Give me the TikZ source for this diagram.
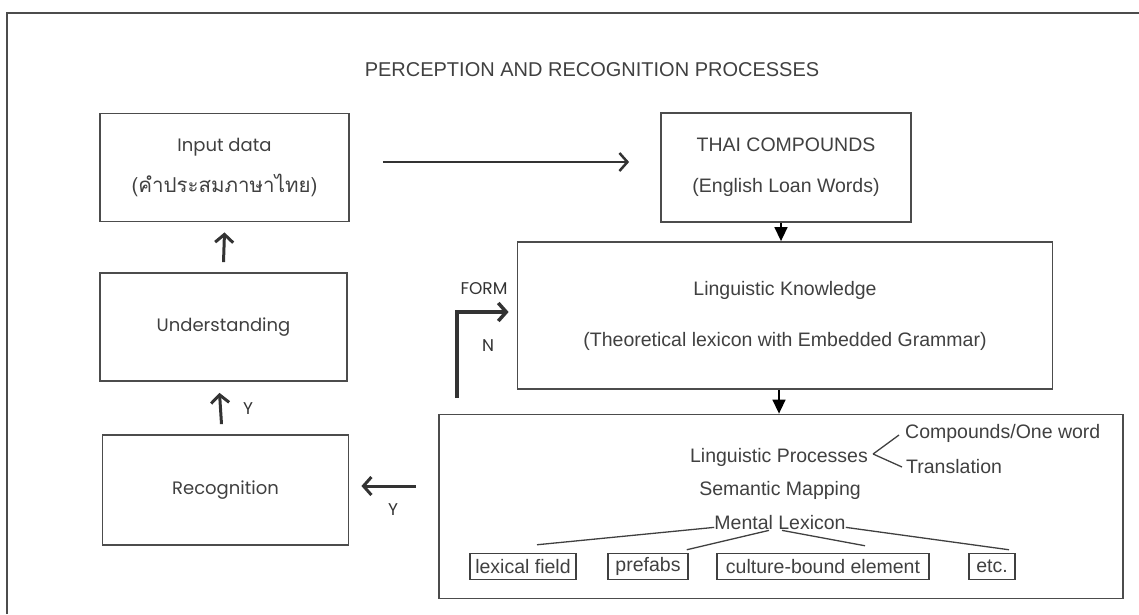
\documentclass[tikz,border=0pt]{standalone}
\usepackage{fontspec}
\setmainfont{Liberation Sans}
\newfontfamily\geofont{Poppins}
\newfontfamily\thaifont[Script=Thai]{Loma}
\usetikzlibrary{arrows.meta}

\begin{document}
\begin{tikzpicture}[x=1pt, y=-1pt,
  box/.style={draw=black!70, line width=1.8pt, align=center, inner sep=0pt,
              text=black!75, font=\fontsize{19.5}{41}\selectfont},
  tag/.style={draw=black!75, line width=1.5pt, inner sep=0pt, minimum height=26pt,
              text=black!75, font=\fontsize{19.5}{22}\selectfont},
  txt/.style={inner sep=0pt, text=black!75, font=\fontsize{19.5}{22}\selectfont},
  lbl/.style={inner sep=0pt, text=black!80, font=\geofont\fontsize{17}{20}\selectfont},
  seta/.style={-{Straight Barb[length=8pt,width=18pt]}, line width=3pt, black!80},
  desce/.style={-{Triangle[length=14pt,width=13pt]}, line width=1.5pt, black}]
\useasboundingbox (0,0) rectangle (1139,614);
\draw[black!70, line width=1.5pt] (7,614) -- (7,13) -- (1139,13);
\node[txt, font=\fontsize{20}{24}\selectfont] (title) at (592,70) {PERCEPTION AND RECOGNITION PROCESSES};

\node[box, minimum width=249pt, minimum height=108pt] (inp) at (224.5,167.5)
  {\geofont\fontsize{18}{41}\selectfont Input data\\ {\thaifont\fontsize{20.5}{22}\selectfont (คำประสมภาษาไทย)}};
\node[box, minimum width=247pt, minimum height=108pt] (und) at (223.5,327)
  {\geofont\fontsize{18}{22}\selectfont Understanding};
\node[box, minimum width=246pt, minimum height=110pt] (rec) at (225.5,490)
  {\geofont\fontsize{18}{22}\selectfont Recognition};
\node[box, minimum width=250pt, minimum height=109pt] (thai) at (786,167.5)
  {THAI COMPOUNDS\\(English Loan Words)};
\node[box, minimum width=535pt, minimum height=147pt] (lk) at (785,315.5)
  {Linguistic Knowledge\\[10pt](Theoretical lexicon with Embedded Grammar)};
\node[box, minimum width=684pt, minimum height=184pt] (lp) at (781,506.5) {};

\node[txt] (lproc) at (779,457) {Linguistic Processes};
\node[txt, anchor=west] (comp) at (905,433) {Compounds/One word};
\node[txt, anchor=west] (trans) at (906,467) {Translation};
\node[txt] (sem) at (780,490) {Semantic Mapping};
\node[txt] (ment) at (780,523) {Mental Lexicon};
\node[tag, minimum width=106pt] (lexf) at (523,566.5) {lexical field};
\node[tag, minimum width=80pt] (pref) at (648,566.5) {prefabs};
\node[tag, minimum width=212pt] (cult) at (823,566.5) {culture-bound element};
\node[tag, minimum width=46pt] (etc) at (992,566.5) {etc.};

\node[lbl] (yup) at (248,409) {Y};
\node[lbl] (yleft) at (393,510) {Y};
\node[lbl] (form) at (484,289) {FORM};
\node[lbl] (no) at (488,346) {N};
\coordinate (nstart) at (457,398);

\draw[seta, line width=2.5pt] ([shift={(33,-5.5)}]inp.east) -- ([shift={(-31,-5.5)}]thai.west);
\draw[seta] ([yshift=10pt]und.north) -- ([yshift=-10pt]inp.south);
\draw[seta] ([shift={(-4,-10)}]rec.north) -- ([shift={(-4,11)}]und.south);
\draw[seta] ([shift={(-22,-20.5)}]lp.west) -- ([shift={(12,-4)}]rec.east);
\draw[seta, line width=3.5pt] (nstart) |- ([shift={(-8,-3.5)}]lk.west);
\draw[desce] ([xshift=-5pt]thai.south) -- ([xshift=-5pt]thai.south |- lk.north);
\draw[desce] ([xshift=-6pt]lk.south) -- ([xshift=-6pt]lk.south |- lp.north);

\draw[black!75, line width=1.3pt] ([shift={(5,-3)}]lproc.east) -- ([shift={(-6,2)}]comp.west);
\draw[black!75, line width=1.3pt] ([shift={(5,-3)}]lproc.east) -- ([xshift=-4pt]trans.west);
\draw[black!75, line width=1.3pt] ([yshift=3pt]ment.south west) -- ([shift={(14,-8)}]lexf.north);
\draw[black!75, line width=1.3pt] ([xshift=-11pt]ment.south) -- ([shift={(-2,-3)}]pref.north east);
\draw[black!75, line width=1.3pt] ([xshift=2pt]ment.south) -- ([shift={(42,-7)}]cult.north);
\draw[black!75, line width=1.3pt] ([yshift=3pt]ment.south east) -- ([shift={(17,-3)}]etc.north);
\end{tikzpicture}
\end{document}
